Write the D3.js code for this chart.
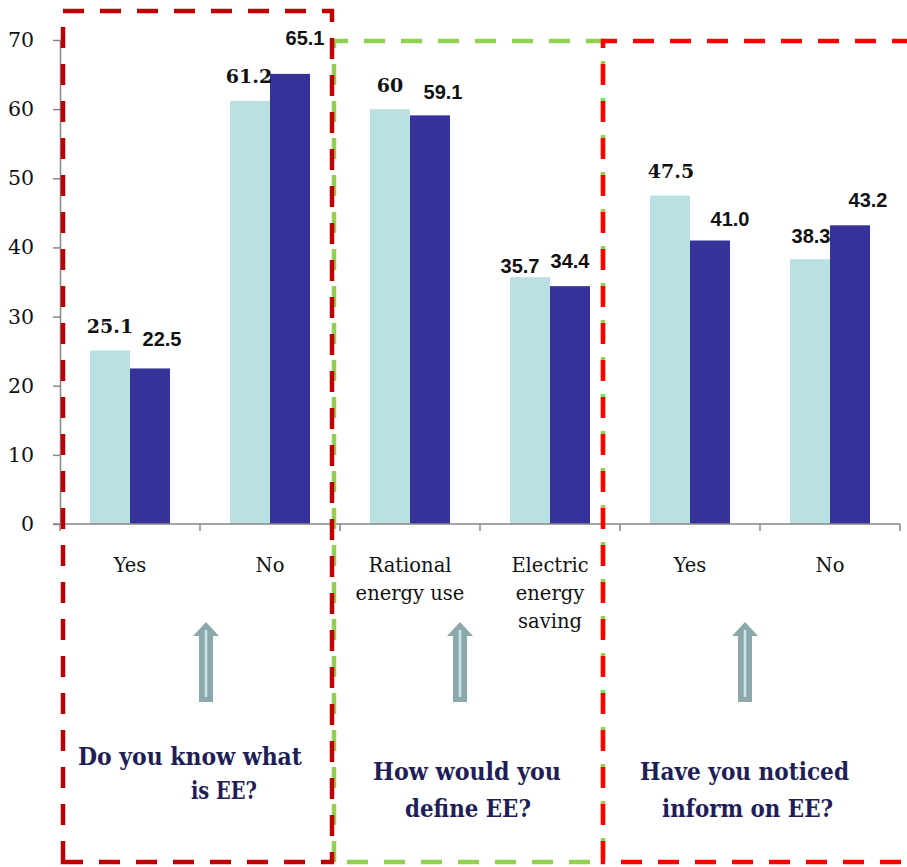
<!DOCTYPE html>
<html>
<head>
<meta charset="utf-8">
<script src="https://cdn.jsdelivr.net/npm/d3@7"></script>
<style>
  html, body { margin: 0; padding: 0; background: #fff; }
  svg { display: block; }
</style>
</head>
<body>
<svg id="chart" width="907" height="867"></svg>
<script>
// ---- data ----
const categories = ["Yes", "No", "Rational\nenergy use", "Electric\nenergy\nsaving", "Yes", "No"];
const seriesLight = [25.1, 61.2, 60, 35.7, 47.5, 38.3];
const seriesDark  = [22.5, 65.1, 59.1, 34.4, 41.0, 43.2];
const lightLabels = ["25.1", "61.2", "60", "35.7", "47.5", "38.3"];
const darkLabels  = ["22.5", "65.1", "59.1", "34.4", "41.0", "43.2"];
const yTicks = [0, 10, 20, 30, 40, 50, 60, 70];
const questions = [
  ["Do you know what", "is EE?"],
  ["How would you", "define EE?"],
  ["Have you noticed", "inform on EE?"]
];

// ---- layout ----
const colLight = "#B9E0E3", colDark = "#353399", axisCol = "#868686";
const serif = "'DejaVu Serif', serif";
const sans = "'Liberation Sans', Arial, sans-serif";
// hand-placed value label nudges (dx, gap above the bar top)
const lightNudge = [[0, 17], [-1, 18], [0, 17], [-10, 4], [1, 18], [1, 16]];
const darkNudge  = [[12, 22], [15, 29], [13, 16], [0, 18], [20, 15], [18, 18]];
const lightFont  = [serif, serif, serif, sans, serif, sans];

const svg = d3.select("#chart");
const idx = d3.range(categories.length);

const x = d3.scaleBand().domain(idx).range([60, 900]).paddingInner(0).paddingOuter(0);
const xSub = d3.scaleBand().domain(["light", "dark"]).range([0, x.bandwidth()]).paddingInner(0).paddingOuter(0.75);
const y = d3.scaleLinear().domain([0, 70]).range([524, 40]);

// bars
const g = svg.append("g");
g.selectAll("rect.light").data(seriesLight).join("rect")
  .attr("x", (d, i) => x(i) + xSub("light"))
  .attr("y", d => y(d))
  .attr("width", xSub.bandwidth())
  .attr("height", d => y(0) - y(d))
  .attr("fill", colLight);
g.selectAll("rect.dark").data(seriesDark).join("rect")
  .attr("x", (d, i) => x(i) + xSub("dark"))
  .attr("y", d => y(d))
  .attr("width", xSub.bandwidth())
  .attr("height", d => y(0) - y(d))
  .attr("fill", colDark);

// value labels
g.selectAll("text.lv").data(seriesLight).join("text")
  .attr("x", (d, i) => x(i) + xSub("light") + xSub.bandwidth() / 2 + lightNudge[i][0])
  .attr("y", (d, i) => y(d) - lightNudge[i][1])
  .attr("text-anchor", "middle")
  .attr("font-family", (d, i) => lightFont[i])
  .attr("font-weight", "bold")
  .attr("font-size", (d, i) => lightFont[i] === serif ? 19 : 20)
  .attr("fill", "#111")
  .text((d, i) => lightLabels[i]);
g.selectAll("text.dv").data(seriesDark).join("text")
  .attr("x", (d, i) => x(i) + xSub("dark") + xSub.bandwidth() / 2 + darkNudge[i][0])
  .attr("y", (d, i) => y(d) - darkNudge[i][1])
  .attr("text-anchor", "middle")
  .attr("font-family", sans)
  .attr("font-weight", "bold")
  .attr("font-size", 20)
  .attr("fill", "#111")
  .text((d, i) => darkLabels[i]);

// y axis
const yAxis = svg.append("g").attr("transform", "translate(60,0)")
  .call(d3.axisLeft(y).tickValues(yTicks).tickSize(7).tickSizeOuter(0).tickPadding(19));
yAxis.select(".domain").attr("stroke", axisCol).attr("stroke-width", 1.5);
yAxis.selectAll(".tick line").attr("stroke", axisCol).attr("stroke-width", 1.5);
yAxis.selectAll(".tick text").attr("font-family", serif).attr("font-size", 20.5).attr("fill", "#111");

// x axis line and boundary ticks
svg.append("line").attr("x1", 53).attr("x2", 900).attr("y1", y(0)).attr("y2", y(0))
  .attr("stroke", axisCol).attr("stroke-width", 1.5);
svg.selectAll("line.xt").data(idx.concat([categories.length])).join("line")
  .attr("x1", i => i < categories.length ? x(i) : x(categories.length - 1) + x.bandwidth())
  .attr("x2", i => i < categories.length ? x(i) : x(categories.length - 1) + x.bandwidth())
  .attr("y1", y(0)).attr("y2", y(0) + 7)
  .attr("stroke", axisCol).attr("stroke-width", 1.5);

// category labels
const catText = svg.selectAll("text.cat").data(categories).join("text")
  .attr("text-anchor", "middle")
  .attr("font-family", serif)
  .attr("font-size", 19.5)
  .attr("fill", "#111");
catText.each(function (c, i) {
  const t = d3.select(this);
  c.split("\n").forEach((line, k) => {
    t.append("tspan").attr("x", x(i) + x.bandwidth() / 2).attr("y", 572 + k * 28).text(line);
  });
});

// arrows
const arrowX = [206, 460, 745];
arrowX.forEach(cx => {
  svg.append("path")
    .attr("d", `M${cx},622 L${cx + 13},636 L${cx + 7},636 L${cx + 7},702 L${cx - 7},702 L${cx - 7},636 L${cx - 13},636 Z`)
    .attr("fill", "#8CA8AB");
  svg.append("line").attr("x1", cx).attr("x2", cx).attr("y1", 630).attr("y2", 697)
    .attr("stroke", "#C8E6E8").attr("stroke-width", 2.5);
});

// question captions
const qPos = [
  [[78, 302, 765], [191, 257, 799]],
  [[373, 561, 780], [405, 531, 817]],
  [[640, 849, 780], [662, 833, 817]]
];
questions.forEach((lines, q) => {
  lines.forEach((line, k) => {
    const [x0, x1, yb] = qPos[q][k];
    svg.append("text")
      .attr("x", x0).attr("y", yb)
      .attr("textLength", x1 - x0).attr("lengthAdjust", "spacingAndGlyphs")
      .attr("font-family", "'DejaVu Serif Condensed', 'DejaVu Serif', serif")
      .attr("font-weight", "bold")
      .attr("font-size", 25)
      .attr("fill", "#1F1E57")
      .text(line);
  });
});

// dashed group frames
function frame(x0, y0, x1, y1, color) {
  svg.append("path")
    .attr("d", `M${x0},${y1} L${x0},${y0} L${x1},${y0} L${x1},${y1} Z`)
    .attr("fill", "none").attr("stroke", color).attr("stroke-width", 4.5)
    .attr("stroke-dasharray", "21 16");
}
frame(334, 41, 603, 862, "#92D050");
frame(63, 11, 332, 862, "#C00000");
frame(603, 41, 930, 862, "#FF0000");
</script>
</body>
</html>
